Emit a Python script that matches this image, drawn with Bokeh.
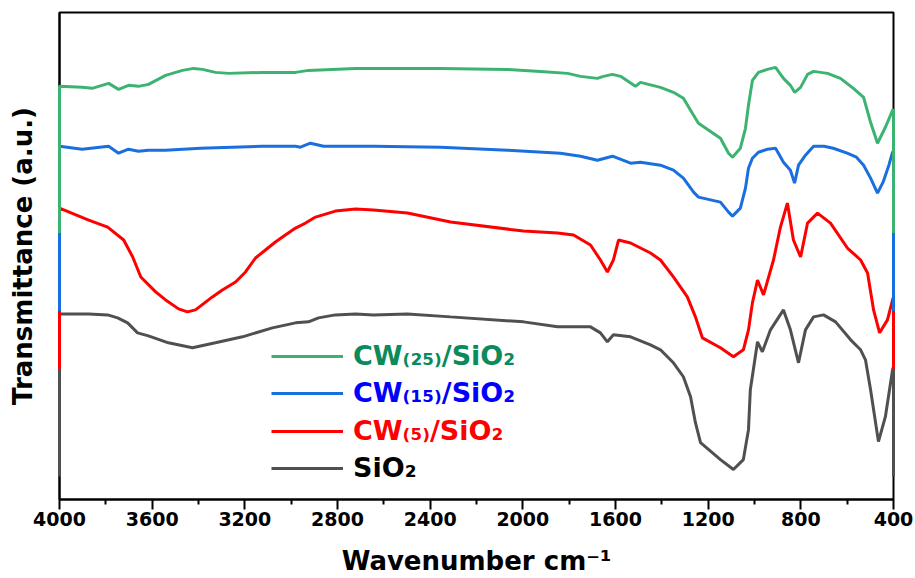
from bokeh.plotting import figure
from bokeh.models import Range1d, FixedTicker, Legend, LegendItem
from bokeh.embed import file_html
from bokeh.resources import INLINE

# ---- data (wavenumber cm-1, transmittance a.u.) ----
x_ticks = [4000, 3600, 3200, 2800, 2400, 2000, 1600, 1200, 800, 400]
x_minor = [3800, 3400, 3000, 2600, 2200, 1800, 1400, 1000, 600]

wn_sio2 = [4000, 4000, 3874, 3792, 3749, 3706, 3663, 3616, 3530, 3426, 3327, 3210, 3081, 2981,
           2925, 2882, 2809, 2722, 2645, 2498, 2312, 1997, 1850, 1708, 1665, 1635, 1609, 1535,
           1449, 1406, 1350, 1307, 1276, 1255, 1233, 1147, 1091, 1048, 1026, 1018, 1005, 987,
           966, 931, 875, 845, 810, 780, 745, 702, 650, 585, 542, 521, 499, 465, 435, 404, 400, 400]
t_sio2 = [23, 186, 186, 185, 182, 177, 167, 164, 157, 152, 157, 163, 172, 177,
          178, 182, 185, 186, 185, 186, 183, 178, 173, 173, 167, 158, 165, 163,
          155, 150, 137, 123, 103, 77, 57, 40, 30, 40, 70, 110, 130, 158,
          148, 170, 190, 170, 137, 170, 183, 185, 178, 160, 150, 140, 110, 58, 83, 130, 133, 23]

wn_cw5 = [4000, 4000, 3874, 3792, 3723, 3684, 3649, 3585, 3542, 3486, 3448, 3413, 3340, 3297,
          3240, 3197, 3154, 3111, 3068, 3025, 2981, 2938, 2895, 2809, 2722, 2645, 2498, 2312,
          1997, 1850, 1781, 1708, 1665, 1635, 1609, 1587, 1535, 1449, 1406, 1350, 1290, 1255,
          1225, 1147, 1091, 1048, 1026, 1009, 987, 961, 918, 888, 858, 832, 801, 771, 728, 672,
          599, 542, 512, 486, 460, 426, 404, 400, 400]
t_cw5 = [131, 292, 280, 273, 260, 243, 223, 208, 200, 191, 188, 190, 203, 210,
         218, 228, 242, 250, 258, 265, 272, 277, 283, 289, 291, 290, 287, 278,
         269, 267, 265, 255, 240, 228, 240, 260, 257, 247, 240, 223, 203, 183,
         162, 152, 143, 150, 170, 197, 220, 205, 240, 273, 297, 260, 243, 277, 287, 277,
         252, 240, 227, 190, 167, 180, 200, 203, 131]

wn_cw15 = [4000, 4000, 3902, 3788, 3745, 3702, 3659, 3616, 3542, 3391, 3124, 2981, 2960, 2917,
           2860, 2722, 2645, 2355, 2067, 1838, 1751, 1678, 1613, 1535, 1492, 1406, 1350, 1307,
           1263, 1242, 1147, 1112, 1095, 1061, 1039, 1026, 1009, 983, 944, 909, 875, 845, 827,
           810, 780, 745, 700, 660, 600, 560, 529, 499, 469, 445, 420, 404, 400, 400]
t_cw15 = [189, 354, 351, 354, 347, 351, 349, 350, 350, 352, 354, 354, 353, 357,
          354, 354, 354, 353, 350, 347, 344, 340, 344, 337, 338, 335, 330, 322,
          308, 303, 298, 288, 284, 292, 312, 332, 342, 348, 351, 352, 338, 330, 317,
          335, 345, 354, 354, 352, 347, 343, 335, 322, 307, 318, 335, 348, 349, 189]

wn_cw25 = [4000, 4000, 3902, 3859, 3788, 3745, 3702, 3659, 3616, 3542, 3469, 3421, 3383, 3327,
           3270, 3124, 2981, 2925, 2722, 2355, 2067, 1924, 1807, 1751, 1678, 1652, 1613, 1578,
           1514, 1492, 1406, 1350, 1307, 1263, 1242, 1147, 1112, 1095, 1061, 1039, 1026, 1009,
           983, 944, 909, 875, 845, 827, 801, 771, 745, 685, 629, 573, 529, 499, 469, 435, 404, 400, 400]
t_cw25 = [267, 414, 413, 412, 417, 411, 415, 414, 416, 425, 430, 432, 431, 428,
          427, 428, 428, 430, 432, 432, 431, 429, 427, 424, 422, 424, 426, 424,
          414, 418, 413, 408, 402, 385, 377, 362, 347, 343, 352, 372, 395, 420,
          428, 431, 433, 422, 415, 408, 413, 426, 429, 427, 422, 412, 403, 378, 357, 373, 390, 391, 267]

labels = ["CW\u208d\u2082\u2085\u208e/SiO\u2082", "CW\u208d\u2081\u2085\u208e/SiO\u2082",
          "CW\u208d\u2085\u208e/SiO\u2082", "SiO\u2082"]

FONT = "DejaVu Sans"

p = figure(width=915, height=578, output_backend="svg", toolbar_location=None,
           x_range=Range1d(4000, 400), y_range=Range1d(0, 488),
           min_border_left=59, min_border_right=22, min_border_top=12, min_border_bottom=78)
p.xgrid.visible = False
p.ygrid.visible = False
p.outline_line_color = "black"
p.outline_line_width = 2
p.background_fill_color = "white"
p.border_fill_color = "white"

xa = p.xaxis[0]
xa.ticker = FixedTicker(ticks=x_ticks, minor_ticks=x_minor)
xa.axis_line_width = 2
xa.major_tick_line_width = 2
xa.minor_tick_line_width = 2
xa.major_tick_out = 10
xa.major_tick_in = 0
xa.minor_tick_out = 5
xa.minor_tick_in = 0
xa.major_label_text_font = FONT
xa.major_label_text_font_style = "bold"
xa.major_label_text_font_size = "19px"
xa.major_label_text_color = "black"
xa.major_label_standoff = 2
xa.axis_label = "Wavenumber cm\u207b\u00b9"
xa.axis_label_text_font = FONT
xa.axis_label_text_font_style = "bold"
xa.axis_label_text_font_size = "26px"
xa.axis_label_text_color = "black"
xa.axis_label_standoff = 17

ya = p.yaxis[0]
ya.ticker = FixedTicker(ticks=[])
ya.axis_line_width = 2
ya.major_tick_line_color = None
ya.minor_tick_line_color = None
ya.major_label_text_font_size = "0px"
ya.axis_label = "Transmittance (a.u.)"
ya.axis_label_text_font = FONT
ya.axis_label_text_font_style = "bold"
ya.axis_label_text_font_size = "26px"
ya.axis_label_text_color = "black"
ya.axis_label_standoff = 22

r_sio2 = p.line(wn_sio2, t_sio2, line_color="#505050", line_width=3, level="annotation")
r_cw5 = p.line(wn_cw5, t_cw5, line_color="#ff0000", line_width=3, level="annotation")
r_cw15 = p.line(wn_cw15, t_cw15, line_color="#1a6fdf", line_width=3, level="annotation")
r_cw25 = p.line(wn_cw25, t_cw25, line_color="#3cb371", line_width=3, level="annotation")

legend_specs = [
    (r_cw25, labels[0], "#0b8a5b", 128),
    (r_cw15, labels[1], "#0000ff", 91),
    (r_cw5, labels[2], "#ff0000", 53),
    (r_sio2, labels[3], "#000000", 16),
]
for r, lab, col, yloc in legend_specs:
    lg = Legend(items=[LegendItem(label=lab, renderers=[r])], location=(212, yloc),
                border_line_color=None, background_fill_alpha=0, padding=0, margin=0,
                glyph_width=72, glyph_height=20, label_standoff=10, label_height=20,
                label_text_font=FONT, label_text_font_style="bold",
                label_text_font_size="27px", label_text_color=col)
    p.add_layout(lg)

open("out.html", "w").write(file_html(p, INLINE))
